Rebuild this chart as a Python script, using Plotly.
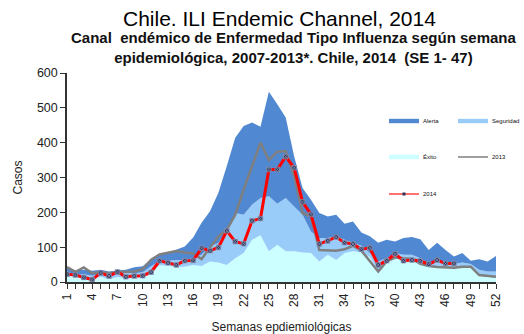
import plotly.graph_objects as go

weeks = list(range(1, 53))

exito = [20, 15, 15, 8, 15, 8, 14, 10, 12, 14, 30, 48, 47, 43, 44, 49, 46, 59, 56, 49,
         68, 83, 121, 134, 88, 107, 88, 88, 85, 83, 59, 78, 63, 83, 88, 85, 72, 32, 55, 65,
         65, 65, 55, 45, 42, 40, 40, 42, 42, 18, 15, 12]
seguridad = [30, 20, 22, 18, 22, 18, 22, 25, 25, 28, 45, 60, 62, 62, 63, 68, 78, 102, 112, 150,
             198, 193, 222, 241, 246, 225, 241, 217, 193, 145, 126, 126, 131, 121, 112, 104, 83, 59, 68, 83,
             78, 78, 68, 54, 59, 54, 52, 56, 52, 35, 30, 30]
alerta = [43, 33, 35, 32, 35, 30, 33, 35, 42, 45, 65, 79, 84, 94, 102, 128, 170, 203, 256, 333,
          414, 448, 458, 446, 546, 510, 472, 361, 270, 236, 198, 188, 193, 167, 174, 142, 131, 113, 121, 116,
          126, 129, 123, 92, 113, 92, 73, 83, 61, 65, 59, 75]
y2013 = [43, 29, 42, 25, 29, 25, 29, 29, 30, 37, 64, 79, 84, 89, 85, 82, 66, 97, 131, 150,
         193, 265, 335, 400, 350, 374, 376, 304, 198, 188, 92, 90, 90, 94, 104, 90, 60, 30, 59, 71,
         68, 66, 52, 46, 43, 41, 41, 44, 44, 20, 17, 15]
y2014 = [22, 20, 13, 7, 26, 17, 29, 15, 17, 18, 28, 61, 55, 49, 61, 62, 97, 90, 99, 147,
         116, 110, 176, 182, 323, 323, 360, 328, 230, 194, 109, 118, 129, 113, 109, 94, 98, 49, 61, 81,
         61, 63, 61, 51, 63, 53, 53]

x_ticks = list(range(1, 53, 3))
y_ticks = [0, 100, 200, 300, 400, 500, 600]

FONT = "Arial, Liberation Sans, sans-serif"
C_EXITO, C_SEG, C_ALERTA = "#ccffff", "#99ccf8", "#5088d2"
C_2013, C_2014 = "#7f7f7f", "#ff0000"

fig = go.Figure()

# endemic channel bands, stacked from the zero line upward
fig.add_trace(go.Scatter(x=weeks, y=exito, name="Éxito", mode="lines",
                         line=dict(width=0, color=C_EXITO), fill="tozeroy",
                         fillcolor=C_EXITO))
fig.add_trace(go.Scatter(x=weeks, y=seguridad, name="Seguridad", mode="lines",
                         line=dict(width=0, color=C_SEG), fill="tonexty",
                         fillcolor=C_SEG))
fig.add_trace(go.Scatter(x=weeks, y=alerta, name="Alerta", mode="lines",
                         line=dict(width=0, color=C_ALERTA), fill="tonexty",
                         fillcolor=C_ALERTA))
fig.add_trace(go.Scatter(x=weeks, y=y2013, name="2013", mode="lines",
                         line=dict(width=2.5, color=C_2013)))
fig.add_trace(go.Scatter(x=weeks[:len(y2014)], y=y2014, name="2014", mode="lines+markers",
                         line=dict(width=3, color=C_2014),
                         marker=dict(symbol="square-x", size=4.5, color="#2a3352",
                                     line=dict(color="#8a94b8", width=0.8))))

fig.update_layout(
    width=524, height=334,
    margin=dict(l=67, r=28, t=73, b=52),
    paper_bgcolor="white", plot_bgcolor="white",
    font=dict(family=FONT, color="#222"),
    showlegend=False,
    xaxis=dict(range=[1, 52], tickvals=x_ticks, ticktext=[str(v) for v in x_ticks],
               tickangle=-90, ticks="outside", ticklen=5, tickcolor="#333",
               tickfont=dict(size=12, color="#222"),
               minor=dict(dtick=1, tick0=1, ticks="outside", ticklen=5, tickcolor="#333"),
               showline=True, linecolor="#333", linewidth=1.5, showgrid=False,
               zeroline=False, automargin=False,
               title=dict(text="Semanas epdiemiológicas", font=dict(size=12, color="#222"),
                          standoff=17)),
    yaxis=dict(range=[0, 600], tickvals=y_ticks, ticks="outside", ticklen=5,
               tickcolor="#333", tickfont=dict(size=12.5, color="#222"),
               showline=True, linecolor="#333", linewidth=1.5, showgrid=False,
               zeroline=False, automargin=False,
               title=dict(text="Casos", font=dict(size=12, color="#222"), standoff=12)),
)

# key drawn inside the plot area, two entries per row
PL, PW, PB, PH = 67, 429, 282, 209


def px_x(v):
    return (v - PL) / PW


def px_y(v):
    return (PB - v) / PH


key_rows = [
    [("Alerta", C_ALERTA, "band", 389, 121), ("Seguridad", C_SEG, "band", 458, 121)],
    [("Éxito", C_EXITO, "band", 389, 157), ("2013", C_2013, "line", 458, 157)],
    [("2014", C_2014, "marker", 389, 194)],
]
for row in key_rows:
    for label, color, kind, x0, yc in row:
        if kind == "band":
            fig.add_shape(type="rect", xref="paper", yref="paper", layer="above",
                          x0=px_x(x0), x1=px_x(x0 + 30), y0=px_y(yc + 2.2), y1=px_y(yc - 2.2),
                          fillcolor=color, line=dict(width=0))
        else:
            fig.add_shape(type="line", xref="paper", yref="paper", layer="above",
                          x0=px_x(x0), x1=px_x(x0 + 30), y0=px_y(yc), y1=px_y(yc),
                          line=dict(color=color if kind == "line" else "#ff7070",
                                    width=1.5 if kind == "line" else 2))
            if kind == "marker":
                fig.add_shape(type="rect", xref="paper", yref="paper", layer="above",
                              x0=px_x(x0 + 13.5), x1=px_x(x0 + 16.5),
                              y0=px_y(yc + 1.5), y1=px_y(yc - 1.5),
                              fillcolor="#2a3352", line=dict(width=0))
        fig.add_annotation(text=label, xref="paper", yref="paper",
                           x=px_x(x0 + 32), y=px_y(yc), xanchor="left", yanchor="middle",
                           showarrow=False, font=dict(family=FONT, size=6, color="#111"))

fig.add_annotation(text="Chile. ILI Endemic Channel, 2014", xref="paper", yref="paper",
                   x=px_x(279), y=px_y(18), showarrow=False,
                   font=dict(family=FONT, size=21, color="#000"), yanchor="middle")
fig.add_annotation(text="<b>Canal  endémico de Enfermedad Tipo Influenza según semana<br>"
                        "epidemiológica, 2007-2013*. Chile, 2014  (SE 1- 47)</b>",
                   xref="paper", yref="paper",
                   x=px_x(293), y=px_y(47.5), showarrow=False,
                   font=dict(family=FONT, size=15, color="#111"), yanchor="middle")

fig.write_html("out.html")
